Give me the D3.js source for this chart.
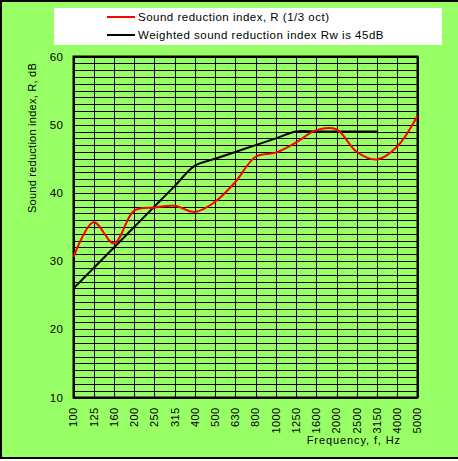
<!DOCTYPE html>
<html><head><meta charset="utf-8">
<script src="https://cdn.jsdelivr.net/npm/d3@7/dist/d3.min.js"></script>
<style>body{margin:0;background:#fff}svg{display:block}text{font-family:"Liberation Sans",Arial,sans-serif}</style>
</head><body>
<svg id="c" width="458" height="461"></svg>
<script>
const frequencies = ["100","125","160","200","250","315","400","500","630","800","1000","1250","1600","2000","2500","3150","4000","5000"];
const soundReduction = [30.6,35.7,32.6,37.4,37.85,38.1,37.2,38.7,41.6,45.3,45.9,47.4,49.2,49.3,46.0,44.9,46.8,51.3];
const weightedRef = [26,29,32,35,38,41,44,45,46,47,48,49,49,49,49,49];
const yTicks = [10,20,30,40,50,60];
const legendLabels = ["Sound reduction index, R (1/3 oct)","Weighted sound reduction index Rw is 45dB"];
const yTitle = "Sound reduction index, R, dB";
const xTitle = "Frequency, f, Hz";

const svg = d3.select("#c");
const L = 73.5, R = 417.5, T = 56.5, B = 397.5;
svg.append("rect").attr("x",1).attr("y",1).attr("width",500).attr("height",457)
  .attr("fill","#99FF66").attr("stroke","#000").attr("stroke-width",2);
svg.append("rect").attr("x",54).attr("y",8).attr("width",388).attr("height",37).attr("fill","#fff");

const x = d3.scalePoint().domain(frequencies).range([L,R]);
const y = d3.scaleLinear().domain([10,60]).range([B,T]);

const g = svg.append("g");
g.selectAll("line.h").data(d3.range(10,61)).join("line")
  .attr("x1",L).attr("x2",R).attr("y1",d=>Math.round(y(d))+0.5).attr("y2",d=>Math.round(y(d))+0.5)
  .attr("stroke","#000").attr("stroke-width",1);
g.selectAll("line.v").data(frequencies).join("line")
  .attr("y1",T).attr("y2",B).attr("x1",d=>Math.round(x(d))+0.5).attr("x2",d=>Math.round(x(d))+0.5)
  .attr("stroke","#000").attr("stroke-width",1);
g.append("rect").attr("x",L).attr("y",T).attr("width",R-L).attr("height",B-T)
  .attr("fill","none").attr("stroke","#000").attr("stroke-width",2);

svg.selectAll("text.yt").data(yTicks).join("text")
  .attr("x",L-10).attr("y",d=>y(d)).attr("dy","0.35em").attr("text-anchor","end")
  .attr("font-size",11.5).attr("letter-spacing",0.5).text(d=>d);
svg.selectAll("text.xt").data(frequencies).join("text")
  .attr("transform",d=>`translate(${x(d)},${B+10}) rotate(-90)`)
  .attr("dy","0.35em").attr("text-anchor","end").attr("font-size",11).attr("letter-spacing",0.4).text(d=>d);

svg.append("text").attr("transform","translate(36,138) rotate(-90)")
  .attr("text-anchor","middle").attr("font-size",11).attr("letter-spacing",0.25).text(yTitle);
svg.append("text").attr("x",401).attr("y",444).attr("text-anchor","end").attr("font-size",11)
  .attr("letter-spacing",0.9).text(xTitle);

const line = d3.line().x((d,i)=>x(frequencies[i])).y(d=>y(d)).curve(d3.curveCatmullRom.alpha(0.5));
svg.append("path").attr("d",line(weightedRef)).attr("fill","none").attr("stroke","#000").attr("stroke-width",2);
svg.append("path").attr("d",line(soundReduction)).attr("fill","none").attr("stroke","#ff0000").attr("stroke-width",2);

const colors = ["#ff0000","#000"];
legendLabels.forEach((t,i)=>{
  const ly = 17 + i*18;
  svg.append("line").attr("x1",107).attr("x2",135).attr("y1",ly).attr("y2",ly).attr("stroke",colors[i]).attr("stroke-width",2);
  svg.append("text").attr("x",138).attr("y",ly).attr("dy","0.35em").attr("font-size",11.5)
    .attr("letter-spacing",0.5).text(t);
});
</script>
</body></html>
